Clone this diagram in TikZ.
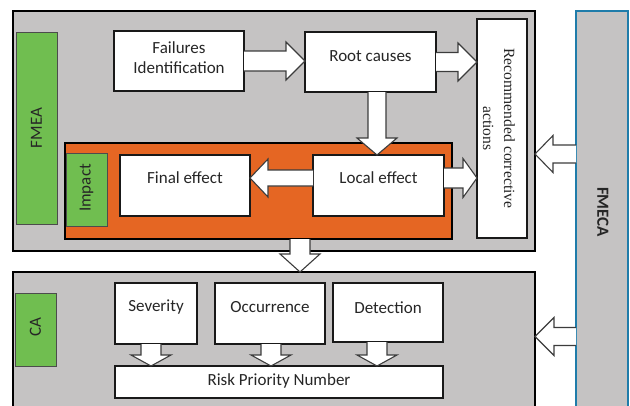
\documentclass[tikz,border=0pt]{standalone}
\usepackage{fontspec}
\setmainfont{Carlito}
\newfontfamily\recserif{Liberation Serif}
\usetikzlibrary{fit,calc}
\definecolor{bggray}{RGB}{197,195,195}
\definecolor{orangebg}{RGB}{229,102,35}
\definecolor{greenbx}{RGB}{112,190,80}
\definecolor{fmecablue}{RGB}{31,124,170}
\definecolor{arrowline}{RGB}{60,60,60}
\newcommand\harr[5]{\draw[blk] let \p1=(#1), \p2=(#2) in
  (\x1,{\y1+#3}) -- ({\x2-(#5)},{\y1+#3}) -- ({\x2-(#5)},{\y1+#4}) -- (\x2,\y1)
  -- ({\x2-(#5)},{\y1-#4}) -- ({\x2-(#5)},{\y1-#3}) -- (\x1,{\y1-#3});}
\newcommand\varr[5]{\draw[blk] let \p1=(#1), \p2=(#2) in
  ({\x1-#3},\y1) -- ({\x1-#3},{\y2+#5}) -- ({\x1-#4},{\y2+#5}) -- (\x1,\y2)
  -- ({\x1+#4},{\y2+#5}) -- ({\x1+#3},{\y2+#5}) -- ({\x1+#3},\y1);}
\tikzset{
  box/.style={draw=black!90, line width=1.3pt, fill=white, inner sep=0pt, outer sep=0pt},
  panel/.style={draw=black, line width=1.4pt, fill=bggray, inner sep=0pt, outer sep=0pt},
  gbox/.style={draw=black!70, line width=0.8pt, fill=greenbx, inner sep=0pt, outer sep=0pt},
  blk/.style={draw=arrowline, line width=1.1pt, fill=white, line join=miter},
  txt/.style={inner sep=0pt, font=\fontsize{17}{20}\selectfont, text=black!85, align=center},
}
\begin{document}
\begin{tikzpicture}[x=1pt,y=-1pt]
\useasboundingbox (0,0) rectangle (630,405);
\clip (0,0) rectangle (630,405);
\fill[white] (0,0) rectangle (630,405);
% panels
\node[panel, fit={(13,11) (535,251)}] (FMEAp) {};
\node[panel, fit={(13,272) (535,430)}] (CAp) {};
\node[draw=fmecablue, line width=1.4pt, fill=bggray, inner sep=0pt, outer sep=0pt, fit={(576,11) (628,430)}] (FMECA) {};
\node[txt, font=\fontsize{17}{20}\selectfont\bfseries, rotate=-90] (tFMECA) at (603,212) {FMECA};
% FMEA part
\node[gbox, fit={(16,32) (57,224)}] (gFMEA) {};
\node[txt, rotate=90] (tFMEA) at (gFMEA.center) {FMEA};
\node[box, fit={(114,31) (244,91)}] (FI) {};
\node[txt] (tFI) at ([yshift=3pt]FI.center) {Failures\\Identification};
\node[box, fit={(305,32) (436,92)}] (RC) {};
\node[txt] (tRC) at ([yshift=6pt]RC.center) {Root causes};
\node[draw=black, line width=1.4pt, fill=orangebg, inner sep=0pt, outer sep=0pt, fit={(65,143) (452,239)}] (OR) {};
\node[gbox, fit={(66,153) (107,226)}] (gImp) {};
\node[txt, rotate=90] (tImp) at ([yshift=1.5pt]gImp.center) {Impact};
\node[box, fit={(120,155) (250,216)}] (FE) {};
\node[txt] (tFE) at ([yshift=7.5pt]FE.center) {Final effect};
\node[box, fit={(313,155) (444,216)}] (LE) {};
\node[txt] (tLE) at ([yshift=7.5pt]LE.center) {Local effect};
\node[box, fit={(477,19) (527,238)}] (REC) {};
\node[txt, rotate=-90, font=\recserif\fontsize{15.6}{21}\selectfont] (tREC) at ([xshift=-3pt]REC.center) {Recommended corrective\\actions};
% CA part
\node[gbox, fit={(15,293) (56,366)}] (gCA) {};
\node[txt, rotate=90] (tCA) at ([yshift=2pt]gCA.center) {CA};
\node[box, fit={(115,283) (197,344)}] (SEV) {};
\node[txt] (tSEV) at ([yshift=6.5pt]SEV.center) {Severity};
\node[box, fit={(215,283) (325,344)}] (OCC) {};
\node[txt] (tOCC) at ([yshift=6.5pt]OCC.center) {Occurrence};
\node[box, fit={(333,283) (443,342)}] (DET) {};
\node[txt] (tDET) at ([yshift=4.5pt]DET.center) {Detection};
\node[box, fit={(115,366) (443,398)}] (RPN) {};
\node[txt] (tRPN) at ([yshift=1pt]RPN.center) {Risk Priority Number};
% block arrows
\harr{FI.east}{RC.west}{10pt}{19pt}{19pt}
\harr{RC.east}{REC.west}{9.5pt}{19pt}{19pt}
\harr{[yshift=7.5pt]LE.west}{FE.east}{8pt}{19pt}{-18pt}
\harr{[yshift=7.5pt]LE.east}{REC.west}{10pt}{19.5pt}{14pt}
\varr{[xshift=6.5pt]RC.south}{LE.north}{9pt}{20pt}{17pt}
\harr{[yshift=66.5pt]FMECA.west}{FMEAp.east}{9pt}{18.5pt}{-18pt}
\harr{[yshift=-116pt]FMECA.west}{CAp.east}{9pt}{19pt}{-19pt}
\varr{[xshift=41.5pt]OR.south}{CAp.north}{10pt}{20pt}{18pt}
\varr{[xshift=-5pt]SEV.south}{RPN.north}{10pt}{20pt}{11pt}
\varr{[xshift=1pt]OCC.south}{RPN.north}{10pt}{20pt}{11pt}
\varr{[xshift=-11pt]DET.south}{RPN.north}{10pt}{20pt}{11pt}
\end{tikzpicture}
\end{document}
